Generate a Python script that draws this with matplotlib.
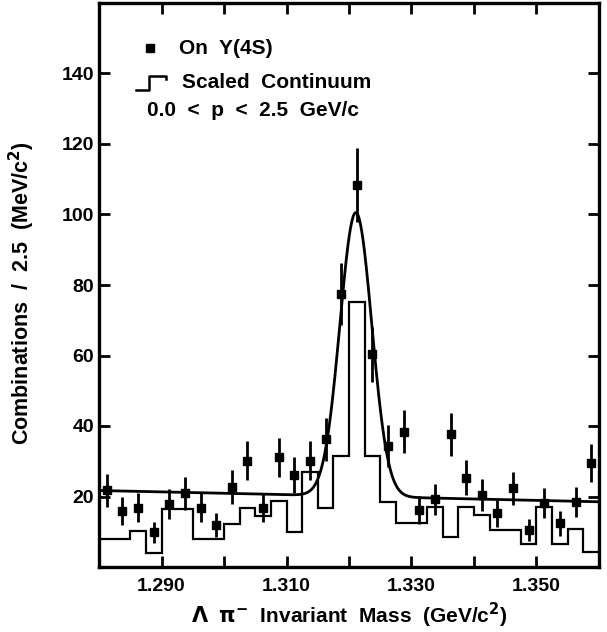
import numpy as np
import matplotlib
matplotlib.use("Agg")
import matplotlib.pyplot as plt
from matplotlib.ticker import MultipleLocator, FixedLocator, FixedFormatter

# ---- data ----
bin_lo = 1.280
bin_width = 0.0025
n_bins = 32
bin_edges = bin_lo + bin_width * np.arange(n_bins + 1)
bin_centers = 0.5 * (bin_edges[:-1] + bin_edges[1:])

on_resonance = [21.8, 15.9, 16.8, 9.8, 17.8, 20.9, 16.8, 11.9, 22.8, 30.2,
                16.8, 31.1, 26.1, 30.2, 36.2, 77.4, 108.4, 60.4, 34.4, 38.4,
                16.2, 19.2, 37.6, 25.3, 20.4, 15.2, 22.3, 10.5, 18.1, 12.4,
                18.4, 29.6]
on_errors = [4.7, 4.0, 4.1, 3.1, 4.2, 4.6, 4.1, 3.4, 4.8, 5.5,
             4.1, 5.6, 5.1, 5.5, 6.0, 8.8, 10.4, 7.8, 5.9, 6.2,
             4.0, 4.4, 6.1, 5.0, 4.5, 3.9, 4.7, 3.2, 4.3, 3.5,
             4.3, 5.4]
continuum = [7.9, 7.9, 10.2, 3.9, 16.4, 16.4, 7.9, 7.9, 12.2, 16.6,
             14.5, 18.7, 10.0, 27.0, 16.8, 31.5, 75.1, 31.5, 18.5, 12.4,
             12.4, 16.9, 8.6, 16.9, 14.8, 10.5, 10.5, 6.4, 16.9, 6.4,
             10.8, 4.3]

# fit parameters (Gaussian on linear background)
fit_bg_left = 21.7     # at 1.280
fit_bg_right = 18.5    # at 1.360
fit_amp = 80.5
fit_mean = 1.3211
fit_sigma = 0.00255

x_major = [1.290, 1.310, 1.330, 1.350]
x_major_labels = ["1.290", "1.310", "1.330", "1.350"]
y_ticks = [20, 40, 60, 80, 100, 120, 140]

FONT = "Liberation Sans"

fig = plt.figure(figsize=(6.07, 6.32), dpi=100)
ax = fig.add_axes([99 / 607, 1 - 567 / 632, 500 / 607, 564 / 632])

# continuum histogram
ax.stairs(continuum, bin_edges, color="black", lw=1.6, baseline=None)

# fit curve
xf = np.linspace(1.280, 1.360, 800)
bg = fit_bg_left + (fit_bg_right - fit_bg_left) * (xf - 1.280) / 0.080
yf = bg + fit_amp * np.exp(-0.5 * ((xf - fit_mean) / fit_sigma) ** 2)
ax.plot(xf, yf, color="black", lw=2.0)

# data points
ax.errorbar(bin_centers, on_resonance, yerr=on_errors, fmt="s", color="black",
            ms=6.0, elinewidth=2.0, capsize=0, clip_on=False, zorder=5)

ax.set_xlim(1.280, 1.360)
ax.set_ylim(0, 160)

ax.xaxis.set_major_locator(FixedLocator(x_major))
ax.xaxis.set_major_formatter(FixedFormatter(x_major_labels))
ax.xaxis.set_minor_locator(MultipleLocator(0.010))
ax.yaxis.set_major_locator(FixedLocator(y_ticks))
ax.yaxis.set_minor_locator(FixedLocator([]))

ax.tick_params(which="both", direction="in", top=True, right=True,
               width=2.0, length=8, labelsize=14)
ax.tick_params(axis="x", pad=8)
for lab in ax.get_xticklabels() + ax.get_yticklabels():
    lab.set_fontfamily(FONT)
    lab.set_fontweight("bold")
for s in ax.spines.values():
    s.set_linewidth(2.4)

ax.set_xlabel(r"$\mathbf{\Lambda}$  $\mathbf{\pi^{-}}$  Invariant  Mass  (GeV/c$^{\mathbf{2}}$)",
              fontsize=15, fontfamily=FONT, fontweight="bold")
ax.xaxis.label.set_verticalalignment("center")
ax.xaxis.set_label_coords(0.5, -0.085)
ax.set_ylabel("Combinations  /  2.5  (MeV/c$^{\\mathbf{2}}$)",
              fontsize=15.5, fontfamily=FONT, fontweight="bold")
ax.yaxis.set_label_coords(-0.124, 0.486)

# legend drawn manually
def fx(px):
    return (px - 99) / 500.0

def fy(py):
    return (567 - py) / 564.0

ax.plot([fx(150)], [fy(48)], "s", color="black", ms=6.0, transform=ax.transAxes)
ax.text(fx(179), fy(48), "On  \u03a5(4S)", transform=ax.transAxes, va="center",
        ha="left", fontsize=15, fontfamily=FONT, fontweight="bold")
ax.plot([fx(136), fx(149), fx(149), fx(166), fx(166)],
        [fy(90), fy(90), fy(76), fy(76), fy(79)], color="black", lw=1.8,
        transform=ax.transAxes)
ax.text(fx(182), fy(82), "Scaled  Continuum", transform=ax.transAxes, va="center",
        ha="left", fontsize=15, fontfamily=FONT, fontweight="bold")
ax.text(fx(147), fy(110), "0.0  <  p  <  2.5  GeV/c", transform=ax.transAxes,
        va="center", ha="left", fontsize=15, fontfamily=FONT, fontweight="bold")

fig.savefig("out.png", dpi=100)
